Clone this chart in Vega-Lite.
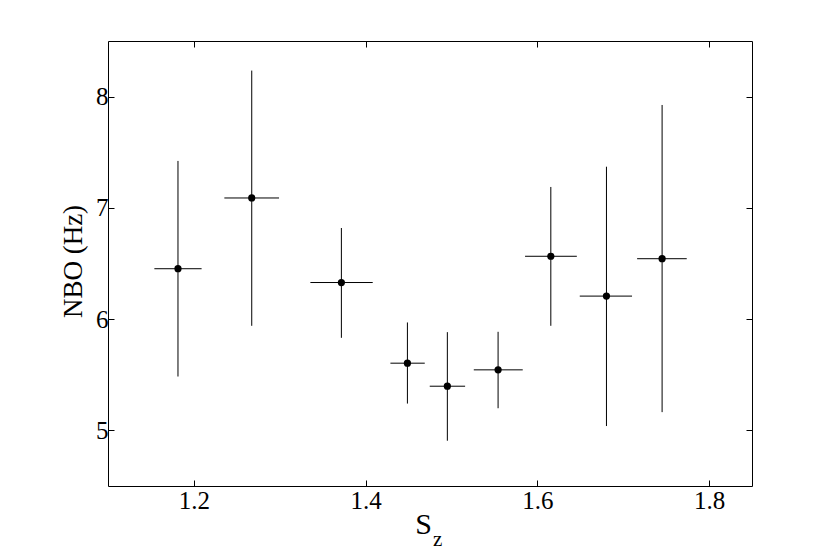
{
  "$schema": "https://vega.github.io/schema/vega-lite/v6.json",
  "width": 644,
  "height": 445,
  "autosize": {"type": "none"},
  "padding": {"left": 108, "top": 41, "right": 78, "bottom": 66},
  "background": "white",
  "config": {
    "view": {"stroke": "black", "strokeWidth": 1},
    "axis": {
      "labelFont": "Liberation Serif",
      "labelColor": "black",
      "titleFont": "Liberation Serif",
      "titleFontWeight": "normal",
      "titleColor": "black",
      "domainColor": "black",
      "tickColor": "black",
      "tickSize": -6,
      "grid": false
    }
  },
  "data": {
    "values": [
      {"x": 1.1815, "y": 6.453, "xlo": 1.154, "xhi": 1.209, "ylo": 5.484, "yhi": 7.422},
      {"x": 1.2674, "y": 7.089, "xlo": 1.2355, "xhi": 1.2992, "ylo": 5.94, "yhi": 8.234},
      {"x": 1.3718, "y": 6.329, "xlo": 1.3357, "xhi": 1.4083, "ylo": 5.832, "yhi": 6.819},
      {"x": 1.4487, "y": 5.604, "xlo": 1.4289, "xhi": 1.4689, "ylo": 5.241, "yhi": 5.97},
      {"x": 1.4952, "y": 5.397, "xlo": 1.4747, "xhi": 1.5159, "ylo": 4.907, "yhi": 5.883},
      {"x": 1.5543, "y": 5.544, "xlo": 1.526, "xhi": 1.583, "ylo": 5.199, "yhi": 5.886},
      {"x": 1.6157, "y": 6.565, "xlo": 1.5857, "xhi": 1.646, "ylo": 5.94, "yhi": 7.188},
      {"x": 1.6805, "y": 6.207, "xlo": 1.6494, "xhi": 1.7103, "ylo": 5.039, "yhi": 7.37},
      {"x": 1.7453, "y": 6.543, "xlo": 1.7162, "xhi": 1.774, "ylo": 5.164, "yhi": 7.925}
    ]
  },
  "resolve": {"axis": {"x": "independent", "y": "independent"}},
  "layer": [
    {
      "mark": {"type": "rule", "color": "black", "strokeWidth": 1},
      "encoding": {
        "x": {"field": "x", "type": "quantitative",
              "scale": {"domain": [1.1, 1.85], "nice": false, "zero": false},
              "axis": {"orient": "top", "labels": false, "title": null, "domain": false, "values": [1.2, 1.4, 1.6, 1.8]}},
        "y": {"field": "ylo", "type": "quantitative",
              "scale": {"domain": [4.5, 8.5], "nice": false, "zero": false},
              "axis": {"orient": "right", "labels": false, "title": null, "domain": false, "values": [5, 6, 7, 8]}},
        "y2": {"field": "yhi"}
      }
    },
    {
      "mark": {"type": "rule", "color": "black", "strokeWidth": 1},
      "encoding": {
        "x": {"field": "xlo", "type": "quantitative",
              "axis": {"orient": "bottom", "title": "S", "titleFontSize": 30, "titleAnchor": "start", "titleAlign": "center", "titleX": 315, "titleY": 47, "titleBaseline": "alphabetic", "labelFontSize": 25, "labelPadding": 8, "domain": false, "values": [1.2, 1.4, 1.6, 1.8]}},
        "x2": {"field": "xhi"},
        "y": {"field": "y", "type": "quantitative",
              "axis": {"orient": "left", "title": "NBO (Hz)", "titleFontSize": 27, "titleAngle": 270, "titleAlign": "center", "titleX": -27, "titleY": 220, "titleBaseline": "alphabetic", "labelFontSize": 25, "labelPadding": 6, "domain": false, "values": [5, 6, 7, 8]}}
      }
    },
    {
      "mark": {"type": "point", "filled": true, "color": "black", "opacity": 1, "size": 52},
      "encoding": {
        "x": {"field": "x", "type": "quantitative", "axis": null},
        "y": {"field": "y", "type": "quantitative", "axis": null}
      }
    },
    {
      "data": {"values": [{"label": "z"}]},
      "mark": {"type": "text", "font": "Liberation Serif", "fontSize": 21, "color": "black", "align": "left", "baseline": "alphabetic"},
      "encoding": {
        "text": {"field": "label"},
        "x": {"datum": 1.4786, "type": "quantitative", "axis": null},
        "y": {"datum": 3.965, "type": "quantitative", "axis": null}
      }
    }
  ]
}
